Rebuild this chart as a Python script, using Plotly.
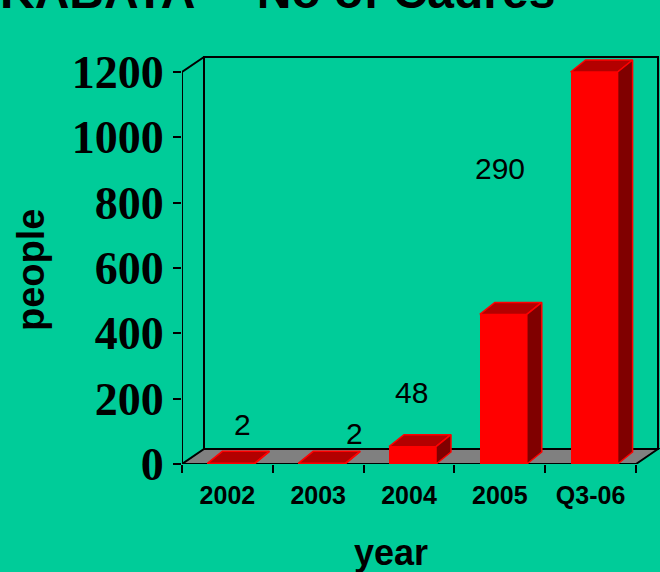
import plotly.graph_objects as go

# ---------------- data ----------------
categories = ["2002", "2003", "2004", "2005", "Q3-06"]
bar_values = [2, 2, 53, 458, 1200]
value_labels = ["2", "2", "48", "290", "1200"]
y_ticks = [0, 200, 400, 600, 800, 1000, 1200]
title_text = "KABATA –\u2009 No of Cadres"
x_title = "year"
y_title = "people"

# ---------------- geometry / style ----------------
W, H = 660, 572
ML, MR, MT, MB = 182, 0, 50, 108
PW, PH = W - ML - MR, H - MT - MB
CAT_PX = 90.8                     # pixels per category
UNIT_PX = 392.0 / max(y_ticks)     # pixels per value unit
X0 = -0.5
XMAX = X0 + PW / CAT_PX
YMAX = PH / UNIT_PX

WALL_DX = 22 / CAT_PX             # depth of the 3D box
WALL_DY = 15 / UNIT_PX
BAR_W = 47 / CAT_PX
BAR_OFF = -20 / CAT_PX
BAR_DX = 15 / CAT_PX
BAR_DY = 12 / UNIT_PX

BG = "#00CC99"
FRONT = "#FF0000"
TOP = "#B30000"
SIDE = "#800000"
FLOOR = "#808080"


def px_to_x(p):
    return X0 + (p - ML) / CAT_PX


def px_to_y(p):
    return (H - MB - p) / UNIT_PX


def px_to_paper_x(p):
    return (p - ML) / PW


def px_to_paper_y(p):
    return (H - MB - p) / PH


# label placement (pixels, centres) - style, not data
label_px = [(242, 424), (354, 433), (411, 392), (500, 168), (603, 24)]

n = len(categories)
xs = list(range(n))
x_end = n - 0.5
y_top = max(y_ticks)

fig = go.Figure()

# front faces of bars
fig.add_trace(go.Bar(
    x=xs, y=bar_values, width=BAR_W, offset=BAR_OFF,
    marker=dict(color=FRONT, line=dict(width=0)),
    hoverinfo="skip", showlegend=False,
))

# top and side faces
for i, v in zip(xs, bar_values):
    L = i + BAR_OFF
    R = L + BAR_W
    fig.add_trace(go.Scatter(
        x=[L, R, R + BAR_DX, L + BAR_DX, L],
        y=[v, v, v + BAR_DY, v + BAR_DY, v],
        mode="lines", fill="toself", fillcolor=TOP,
        line=dict(color=FRONT, width=1.5), hoverinfo="skip", showlegend=False,
    ))
    fig.add_trace(go.Scatter(
        x=[R, R + BAR_DX, R + BAR_DX, R, R],
        y=[0, BAR_DY, v + BAR_DY, v, 0],
        mode="lines", fill="toself", fillcolor=SIDE,
        line=dict(color=FRONT, width=1.5), hoverinfo="skip", showlegend=False,
    ))

shapes = []
# floor
shapes.append(dict(
    type="path", xref="x", yref="y", layer="below",
    path=f"M {X0},0 L {x_end},0 L {x_end + WALL_DX},{WALL_DY} L {X0 + WALL_DX},{WALL_DY} Z",
    fillcolor=FLOOR, line=dict(color="black", width=2),
))
# back wall
shapes.append(dict(
    type="rect", xref="x", yref="y", layer="below",
    x0=X0 + WALL_DX, x1=x_end + WALL_DX, y0=WALL_DY, y1=y_top + WALL_DY,
    line=dict(color="black", width=2), fillcolor="rgba(0,0,0,0)",
))
# left side / front axis line
shapes.append(dict(
    type="path", xref="x", yref="y", layer="below",
    path=f"M {X0},0 L {X0},{y_top} L {X0 + WALL_DX},{y_top + WALL_DY}",
    line=dict(color="black", width=2),
))

annotations = []
for (lx, ly), txt in zip(label_px, value_labels):
    annotations.append(dict(
        x=px_to_x(lx), y=px_to_y(ly), xref="x", yref="y", text=txt,
        showarrow=False, xanchor="center", yanchor="middle",
        font=dict(family="Liberation Sans, Arial", size=30, color="black"),
    ))

annotations.append(dict(
    x=px_to_paper_x(391), y=px_to_paper_y(552), xref="paper", yref="paper",
    text=x_title, showarrow=False, xanchor="center", yanchor="middle",
    font=dict(family="Liberation Sans, Arial", size=36, color="black", weight="bold"),
))
annotations.append(dict(
    x=px_to_paper_x(31), y=px_to_paper_y(270), xref="paper", yref="paper",
    text=y_title, showarrow=False, xanchor="center", yanchor="middle", textangle=-90,
    font=dict(family="Liberation Sans, Arial", size=38, color="black", weight="bold"),
))
annotations.append(dict(
    x=px_to_paper_x(557), y=px_to_paper_y(-9), xref="paper", yref="paper",
    text=title_text, showarrow=False, xanchor="right", yanchor="middle",
    font=dict(family="Liberation Sans, Arial", size=48, color="black", weight="bold"),
))

fig.update_layout(
    width=W, height=H,
    margin=dict(l=ML, r=MR, t=MT, b=MB, pad=0),
    paper_bgcolor=BG, plot_bgcolor=BG,
    showlegend=False, bargap=0,
    shapes=shapes, annotations=annotations,
    xaxis=dict(
        range=[X0, XMAX], tickvals=xs, ticktext=categories,
        ticks="", showgrid=False, zeroline=False, showline=False,
        ticklabelstandoff=14,
        tickfont=dict(family="Liberation Sans, Arial", size=25, color="black", weight="bold"),
        minor=dict(tickvals=[i - 0.5 for i in range(n + 1)], ticks="outside",
                   ticklen=8, tickwidth=2, tickcolor="black"),
        fixedrange=True,
    ),
    yaxis=dict(
        range=[0, YMAX], tickvals=y_ticks, ticks="outside", ticklen=8, tickwidth=2,
        tickcolor="black", showgrid=False, zeroline=False, showline=False,
        tickfont=dict(family="Liberation Serif, Times New Roman", size=46, color="black", weight="bold"),
        fixedrange=True,
    ),
)

fig.write_html(
    "out.html",
    config={"displayModeBar": False},
    post_script="document.body.style.margin='0';document.body.style.padding='0';document.body.style.overflow='hidden';",
)
